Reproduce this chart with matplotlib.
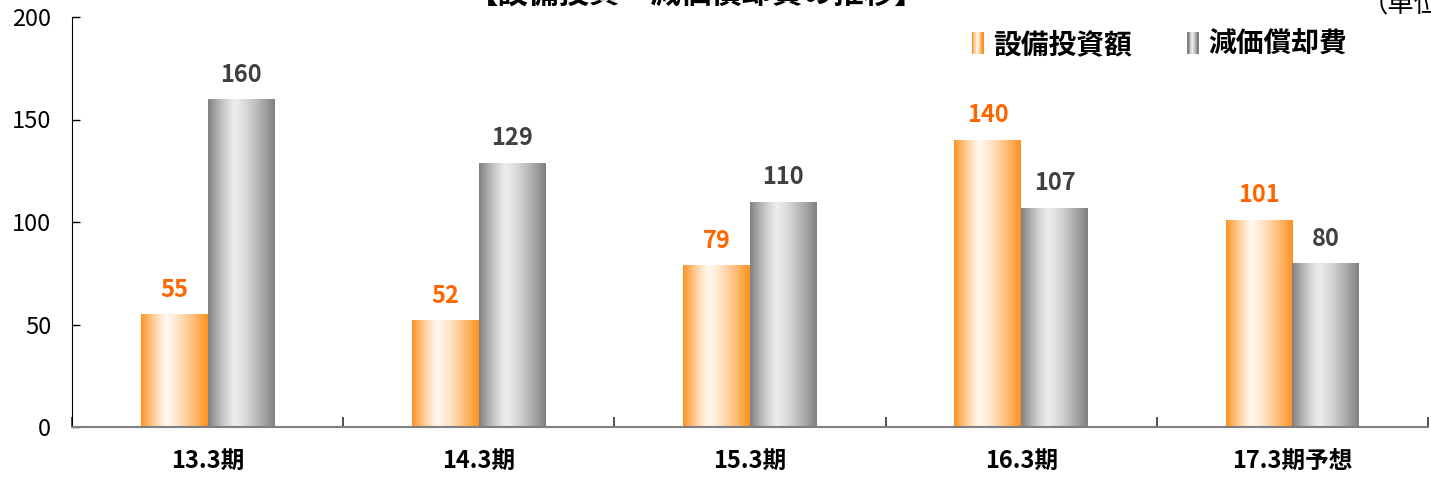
import numpy as np
import matplotlib
matplotlib.use("Agg")
import matplotlib.pyplot as plt
from matplotlib.patches import Rectangle
from matplotlib.legend_handler import HandlerBase

plt.rcParams['font.family'] = ['Noto Sans CJK JP', 'DejaVu Sans']

categories = ['13.3期', '14.3期', '15.3期', '16.3期', '17.3期予想']
capex = [55, 52, 79, 140, 101]
depreciation = [160, 129, 110, 107, 80]
series_names = ['設備投資額', '減価償却費']
yticks = [0, 50, 100, 150, 200]
title = '【設備投資・減価償却費の推移】'
unit = '（単位：億円）'

ORANGE_DARK = np.array([255, 145, 30]) / 255
ORANGE_LIGHT = np.array([255, 247, 238]) / 255
GRAY_DARK = np.array([128, 128, 128]) / 255
GRAY_LIGHT = np.array([236, 236, 236]) / 255


def gradient(dark, light, n=200, peak=0.38):
    t = np.linspace(0, 1, n)
    w = np.where(t < peak, (peak - t) / peak, (t - peak) / (1 - peak))
    w = w ** 1.3
    cols = light[None, :] + (dark - light)[None, :] * w[:, None]
    return cols[None, :, :]


fig = plt.figure(figsize=(14.31, 4.83), dpi=100)
ax = fig.add_axes([72 / 1431, 56 / 483, 1356 / 1431, 410 / 483])

x = np.arange(len(categories))
w = 0.246
bars1 = ax.bar(x - w / 2, capex, width=w, color='none', edgecolor='none')
bars2 = ax.bar(x + w / 2, depreciation, width=w, color='none', edgecolor='none')

g1 = gradient(ORANGE_DARK, ORANGE_LIGHT)
g2 = gradient(GRAY_DARK, GRAY_LIGHT, peak=0.40)
for bars, g in ((bars1, g1), (bars2, g2)):
    for b in bars:
        x0, y0 = b.get_x(), b.get_y()
        im = ax.imshow(g, extent=(x0, x0 + b.get_width(), y0, y0 + b.get_height()),
                       aspect='auto', interpolation='bilinear', zorder=2)
        im.set_clip_path(b)

for b, v in zip(bars1, capex):
    ax.annotate(str(v), (b.get_x() + b.get_width() / 2, v), xytext=(0, 9),
                textcoords='offset points', ha='center', va='bottom',
                fontsize=17, fontweight='bold', color='#FF6600')
for b, v in zip(bars2, depreciation):
    ax.annotate(str(v), (b.get_x() + b.get_width() / 2, v), xytext=(0, 9),
                textcoords='offset points', ha='center', va='bottom',
                fontsize=17, fontweight='bold', color='#404040')

ax.set_xlim(-0.5, len(categories) - 0.5)
ax.set_ylim(0, 200)
ax.set_yticks(yticks)
ax.set_yticklabels([str(t) for t in yticks])
ax.tick_params(axis='y', direction='in', length=6, width=1, labelsize=17, pad=15, colors='black')
ax.set_xticks(x)
ax.set_xticklabels(categories, fontsize=17, fontweight='bold')
ax.set_xticks(np.arange(len(categories) + 1) - 0.5, minor=True)
ax.tick_params(axis='x', which='major', length=0, pad=16)
ax.tick_params(axis='x', which='minor', direction='in', length=7, width=1.2, color='#303030')
for s in ('top', 'right'):
    ax.spines[s].set_visible(False)
ax.spines['left'].set_color('black')
ax.spines['bottom'].set_color('#808080')
ax.spines['bottom'].set_linewidth(1.5)


class GradHandler(HandlerBase):
    def __init__(self, g):
        super().__init__()
        self.g = g[0]

    def create_artists(self, legend, orig_handle, xdescent, ydescent, width, height, fontsize, trans):
        arts = []
        n = 10
        idx = np.linspace(0, len(self.g) - 1, n).astype(int)
        for i in range(n):
            r = Rectangle((-xdescent + width * i / n, -ydescent - 1), width / n + 0.3, height + 2,
                          facecolor=self.g[idx[i]], edgecolor='none', transform=trans)
            arts.append(r)
        return arts


h1 = Rectangle((0, 0), 1, 1)
h2 = Rectangle((0, 0), 1, 1)
leg = ax.legend([h1, h2], series_names, handler_map={h1: GradHandler(g1), h2: GradHandler(g2)},
                loc='upper right', bbox_to_anchor=(1372 / 1431, 1 - 6 / 483),
                bbox_transform=fig.transFigure, ncol=2, frameon=False,
                handlelength=0.4, handletextpad=0.35, columnspacing=2.0,
                prop={'size': 20, 'weight': 'bold'})

fig.text(697 / 1431, 480 / 483, title, ha='center', va='baseline', fontsize=22, fontweight='bold')
fig.text(1362 / 1431, 471 / 483, unit, ha='left', va='baseline', fontsize=19)

fig.savefig('out.png', dpi=100)
